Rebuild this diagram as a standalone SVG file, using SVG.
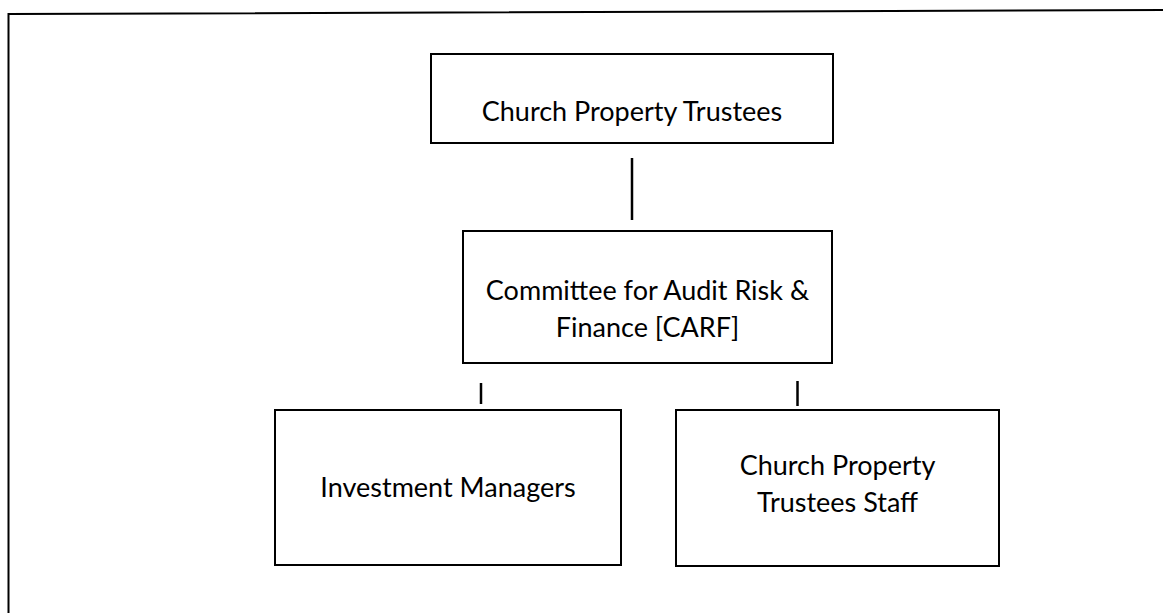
<svg xmlns="http://www.w3.org/2000/svg" width="1163" height="613" viewBox="0 0 1163 613">
  <style>
    .box { fill: #ffffff; stroke: #000000; stroke-width: 2; }
    .lbl { font-family: Lato, "Open Sans", "Liberation Sans", sans-serif; font-size: 27px; fill: #000000; text-anchor: middle; }
    .conn { stroke: #000000; stroke-width: 2.5; fill: none; }
    .frame { stroke: #000000; stroke-width: 2; fill: none; }
  </style>
  <rect width="1163" height="613" fill="#ffffff"/>
  <g id="frame">
    <path class="frame" d="M8.5,613 L8.5,14 L1163,10"/>
  </g>
  <g id="connectors">
    <line class="conn" x1="632" y1="158" x2="632" y2="220"/>
    <line class="conn" x1="481" y1="383" x2="481" y2="404"/>
    <line class="conn" x1="797.5" y1="381" x2="797.5" y2="406"/>
  </g>
  <g id="node-cpt">
    <rect class="box" x="431" y="54" width="402" height="89"/>
    <text class="lbl" x="632" y="121">Church Property Trustees</text>
  </g>
  <g id="node-carf">
    <rect class="box" x="463" y="231" width="369" height="132"/>
    <text class="lbl" x="647.5" y="300">Committee for Audit Risk &amp;</text>
    <text class="lbl" x="647.5" y="337">Finance [CARF]</text>
  </g>
  <g id="node-im">
    <rect class="box" x="275" y="410" width="346" height="155"/>
    <text class="lbl" x="448" y="497">Investment Managers</text>
  </g>
  <g id="node-staff">
    <rect class="box" x="676" y="410" width="323" height="156"/>
    <text class="lbl" x="837.5" y="475">Church Property</text>
    <text class="lbl" x="837.5" y="512">Trustees Staff</text>
  </g>
</svg>
